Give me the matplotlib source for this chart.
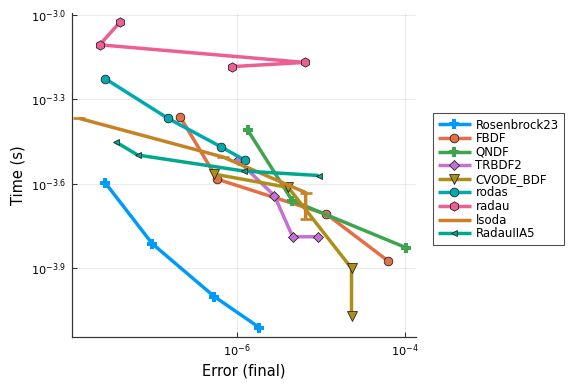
import matplotlib
matplotlib.use("Agg")
import matplotlib.pyplot as plt
from matplotlib.ticker import FixedLocator, FixedFormatter, NullLocator

# ---- data (error, time) ----
names = ["Rosenbrock23", "FBDF", "QNDF", "TRBDF2", "CVODE_BDF",
         "rodas", "radau", "lsoda", "RadauIIA5"]

rosen_err = [2.71e-8, 9.86e-8, 5.38e-7, 1.85e-6]
rosen_time = [2.54e-4, 1.54e-4, 1.00e-4, 7.76e-5]

fbdf_err = [2.13e-7, 5.85e-7, 1.16e-5, 6.22e-5]
fbdf_time = [4.33e-4, 2.61e-4, 1.96e-4, 1.34e-4]

qndf_err = [1.35e-6, 4.55e-6, 1.03e-4]
qndf_time = [3.89e-4, 2.19e-4, 1.49e-4]

trbdf2_err = [1.02e-6, 2.79e-6, 4.60e-6, 9.25e-6]
trbdf2_time = [3.05e-4, 2.28e-4, 1.63e-4, 1.63e-4]

cvode_err = [5.38e-7, 4.08e-6, 2.30e-5, 2.30e-5]
cvode_time = [2.72e-4, 2.44e-4, 1.26e-4, 8.53e-5]

rodas_err = [2.71e-8, 1.50e-7, 6.47e-7, 1.24e-6]
rodas_time = [5.94e-4, 4.30e-4, 3.40e-4, 3.05e-4]

radau_err = [4.05e-8, 2.34e-8, 6.38e-6, 8.63e-7]
radau_time = [9.40e-4, 7.83e-4, 6.78e-4, 6.55e-4]

lsoda_err = [1.34e-8, 6.81e-7, 6.56e-6, 6.56e-6]
lsoda_time = [4.29e-4, 3.13e-4, 2.34e-4, 1.89e-4]

radauiia5_err = [3.63e-8, 6.61e-8, 1.21e-6, 9.33e-6]
radauiia5_time = [3.54e-4, 3.18e-4, 2.79e-4, 2.69e-4]

ytick_exps = [-3.0, -3.3, -3.6, -3.9]
ytick_labels = [r"$10^{-3.0}$", r"$10^{-3.3}$", r"$10^{-3.6}$", r"$10^{-3.9}$"]
xtick_exps = [-6, -4]
xtick_labels = [r"$10^{-6}$", r"$10^{-4}$"]

series = [
    (rosen_err, rosen_time, "#009AFA", "P", 7.5),
    (fbdf_err, fbdf_time, "#E36F47", "o", 6.5),
    (qndf_err, qndf_time, "#3EA44E", "P", 7.5),
    (trbdf2_err, trbdf2_time, "#C371D2", "D", 5.5),
    (cvode_err, cvode_time, "#AC8E18", "v", 7),
    (rodas_err, rodas_time, "#00A9AD", "o", 6.5),
    (radau_err, radau_time, "#ED5E93", "h", 7),
    (lsoda_err, lsoda_time, "#C68225", "_", 9),
    (radauiia5_err, radauiia5_time, "#00A98D", "<", 5),
]

fig = plt.figure(figsize=(6, 4), dpi=96)
ax = fig.add_axes([0.125, 0.1232, 0.5972, 0.8421])

for (xs, ys, c, m, ms), name in zip(series, names):
    if m in ("P", "_"):
        mec = c
        mew = 2.0 if m == "_" else 0.0
    else:
        mec = "#222222"
        mew = 0.6
    ax.plot(xs, ys, color=c, lw=2.6, marker=m, ms=ms,
            markerfacecolor=c, markeredgecolor=mec, markeredgewidth=mew,
            label=name, solid_capstyle="butt")

ax.set_xscale("log")
ax.set_yscale("log")
ax.set_xlim(10 ** -7.96, 10 ** -3.872)
ax.set_ylim(10 ** -4.1425, 10 ** -2.9945)

ax.yaxis.set_major_locator(FixedLocator([10 ** e for e in ytick_exps]))
ax.yaxis.set_major_formatter(FixedFormatter(ytick_labels))
ax.yaxis.set_minor_locator(NullLocator())
ax.xaxis.set_major_locator(FixedLocator([10 ** e for e in xtick_exps]))
ax.xaxis.set_major_formatter(FixedFormatter(xtick_labels))
ax.xaxis.set_minor_locator(NullLocator())

ax.grid(True, color="#000000", alpha=0.08, lw=0.8)
ax.set_axisbelow(True)
for s in ("top", "right"):
    ax.spines[s].set_visible(False)
for s in ("left", "bottom"):
    ax.spines[s].set_color("#333333")
    ax.spines[s].set_linewidth(0.9)
ax.tick_params(direction="in", length=3.5, width=0.8, colors="#333333",
               labelsize=8.5, labelcolor="black", pad=4)

ax.set_xlabel("Error (final)", fontsize=11)
ax.set_ylabel("Time (s)", fontsize=11)

leg = ax.legend(loc="upper left", bbox_to_anchor=(1.0485, 0.691), fontsize=8.8,
                frameon=True, fancybox=False, edgecolor="#222222",
                handlelength=2.8, handletextpad=0.4, labelspacing=0.05,
                borderpad=0.45, borderaxespad=0, numpoints=1)
leg.get_frame().set_linewidth(0.8)

fig.savefig("out.png", dpi=96)
